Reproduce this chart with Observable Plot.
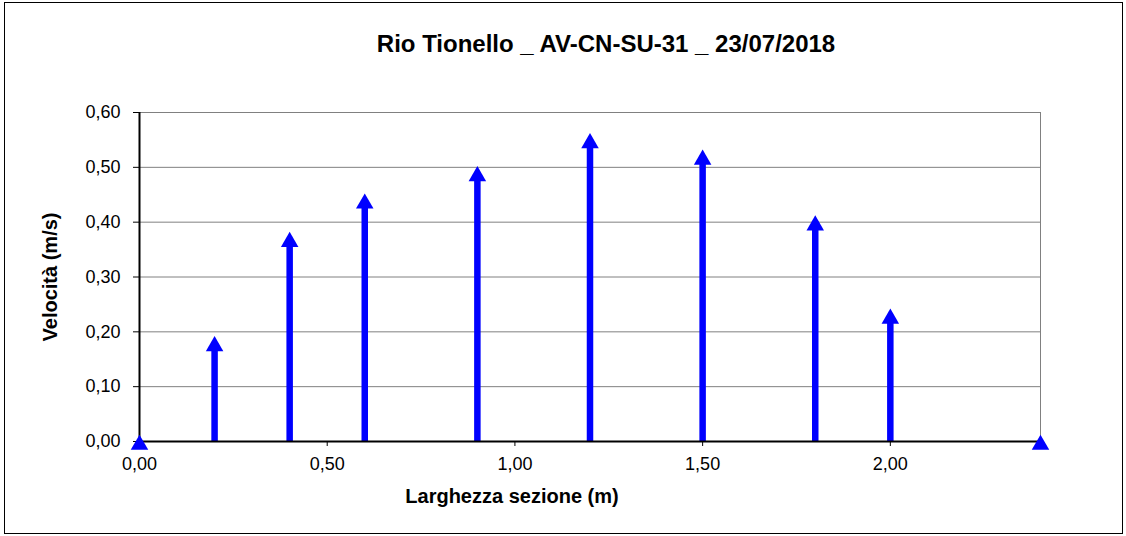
<!DOCTYPE html>
<html>
<head>
<meta charset="utf-8">
<script src="https://cdn.jsdelivr.net/npm/d3@7"></script>
<script src="https://cdn.jsdelivr.net/npm/@observablehq/plot@0.6"></script>
<style>
  html, body { margin: 0; padding: 0; background: #fff; }
  #wrap { position: relative; width: 1126px; height: 536px; overflow: hidden; }
  #border { position: absolute; left: 4px; top: 2px; width: 1117px; height: 530px; border: 1px solid #000; pointer-events: none; }
</style>
</head>
<body>
<div id="wrap"><div id="border"></div></div>
<script>
const title = "Rio Tionello _ AV-CN-SU-31 _ 23/07/2018";
const xLabel = "Larghezza sezione (m)";
const yLabel = "Velocità (m/s)";
const positions = [0.0, 0.2, 0.4, 0.6, 0.9, 1.2, 1.5, 1.8, 2.0, 2.4];
const velocities = [0.0, 0.18, 0.37, 0.44, 0.49, 0.55, 0.52, 0.40, 0.23, 0.0];
const xTicks = [0, 0.5, 1.0, 1.5, 2.0];
const yTicks = [0, 0.1, 0.2, 0.3, 0.4, 0.5, 0.6];

const data = positions.map((x, i) => ({x, v: velocities[i]}));
const fmt = d => d.toFixed(2).replace(".", ",");
const blue = "#0000ff";

const chart = Plot.plot({
  width: 1126,
  height: 536,
  marginLeft: 139,
  marginRight: 86,
  marginTop: 112,
  marginBottom: 95,
  style: {fontFamily: "'Liberation Sans', Arial, sans-serif", fontSize: "18px", color: "#000", background: "transparent"},
  x: {domain: [0, 2.4]},
  y: {domain: [0, 0.6]},
  marks: [
    Plot.gridY(yTicks, {stroke: "#808080", strokeOpacity: 1, strokeWidth: 1}),
    Plot.frame({stroke: "#808080", strokeWidth: 1}),
    Plot.axisY(yTicks, {tickSize: 6, tickPadding: 13, tickFormat: fmt, label: null, fontSize: 18}),
    Plot.axisX(xTicks, {tickSize: 5, tickPadding: 11, tickFormat: fmt, label: null, fontSize: 18}),
    Plot.ruleX(data.filter(d => d.v > 0), {x: "x", y1: 0, y2: "v", stroke: blue, strokeWidth: 6.5}),
    Plot.ruleY([0], {stroke: "#000", strokeWidth: 2}),
    Plot.ruleX([0], {stroke: "#000", strokeWidth: 2}),
    Plot.dot(data, {x: "x", y: "v", symbol: "triangle", r: 6.5, fill: blue, stroke: null, dy: 3.3}),
    Plot.text([title], {frameAnchor: "top", dy: -78, dx: 16, fontSize: 24, fontWeight: "bold", text: d => d}),
    Plot.text([xLabel], {frameAnchor: "bottom", dy: 61, dx: -78, fontSize: 20, fontWeight: "bold", text: d => d}),
    Plot.text([yLabel], {frameAnchor: "left", textAnchor: "middle", dx: -89, rotate: -90, fontSize: 20, fontWeight: "bold", text: d => d})
  ]
});
document.getElementById("wrap").prepend(chart);
chart.style.position = "absolute";
chart.style.left = "0";
chart.style.top = "0";
</script>
</body>
</html>
